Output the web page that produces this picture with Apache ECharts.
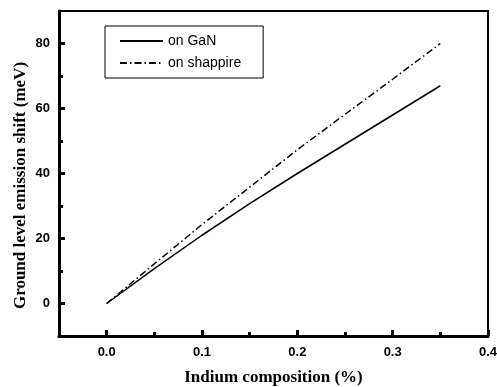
<!DOCTYPE html>
<html><head><meta charset="utf-8">
<script src="https://cdn.jsdelivr.net/npm/echarts@6/dist/echarts.min.js"></script>
<style>html,body{margin:0;padding:0;background:#fff}#c{width:497px;height:387px}</style>
</head><body><div id="c"></div>
<script>
const xValues = [0, 0.05, 0.1, 0.15, 0.2, 0.25, 0.3, 0.35];
const ganValues = [0, 10.7, 21, 30.7, 40, 49, 58, 67];
const sapphireValues = [0, 12.2, 24.3, 35.8, 47.3, 58.2, 69, 80];
const seriesNames = ['on GaN', 'on shappire'];
const xMajorTicks = [0, 0.1, 0.2, 0.3, 0.4];
const xMinorTicks = [0.05, 0.15, 0.25, 0.35];
const yMajorTicks = [0, 20, 40, 60, 80];
const yMinorTicks = [10, 30, 50, 70];
const xTitle = 'Indium composition (%)';
const yTitle = 'Ground level emission shift (meV)';

const chart = echarts.init(document.getElementById('c'));
const lab = {fontFamily: 'Liberation Sans, Arial', fontWeight: 'bold', fontSize: 13, color: '#000'};
const titleFont = {fontFamily: 'Liberation Serif, Times New Roman', fontWeight: 'bold', fontSize: 17, color: '#000'};
chart.setOption({
  animation: false,
  grid: {left: 59, top: 11, right: 9, bottom: 51, show: true, borderColor: '#000', borderWidth: 2,
         containLabel: false, outerBoundsMode: 'none'},
  legend: {
    left: 105, top: 26, orient: 'vertical',
    borderColor: '#000', borderWidth: 1, padding: [8, 22, 8, 14],
    itemWidth: 43, itemHeight: 12, itemGap: 8,
    itemStyle: {opacity: 0},
    textStyle: {fontFamily: 'Liberation Sans, Arial', fontSize: 14, color: '#000'},
    data: seriesNames
  },
  xAxis: [{
    type: 'value', min: -0.05, max: 0.4, position: 'bottom',
    name: xTitle, nameLocation: 'middle', nameGap: 33, nameTextStyle: titleFont,
    axisLine: {show: true, onZero: false, lineStyle: {color: '#000', width: 3}},
    axisTick: {show: true, inside: true, length: 6, lineStyle: {color: '#000', width: 3}, customValues: xMajorTicks},
    axisLabel: Object.assign({margin: 10, customValues: xMajorTicks, formatter: v => v.toFixed(1)}, lab),
    splitLine: {show: false}
  }, {
    type: 'value', min: -0.05, max: 0.4, position: 'bottom',
    axisLine: {show: false, onZero: false},
    axisTick: {show: true, inside: true, length: 4, lineStyle: {color: '#000', width: 3}, customValues: xMinorTicks},
    axisLabel: {show: false}, splitLine: {show: false}
  }],
  yAxis: [{
    type: 'value', min: -10, max: 90, position: 'left',
    name: yTitle, nameLocation: 'middle', nameGap: 30, nameMoveOverlap: false,
    nameTextStyle: Object.assign({padding: [0, 24, 0, 0]}, titleFont),
    axisLine: {show: true, onZero: false, lineStyle: {color: '#000', width: 3}},
    axisTick: {show: true, inside: true, length: 6, lineStyle: {color: '#000', width: 3}, customValues: yMajorTicks},
    axisLabel: Object.assign({margin: 9, customValues: yMajorTicks}, lab),
    splitLine: {show: false}
  }, {
    type: 'value', min: -10, max: 90, position: 'left',
    axisLine: {show: false, onZero: false},
    axisTick: {show: true, inside: true, length: 4, lineStyle: {color: '#000', width: 3}, customValues: yMinorTicks},
    axisLabel: {show: false}, splitLine: {show: false}
  }],
  series: [{
    name: seriesNames[0], type: 'line', symbol: 'none', color: '#000',
    lineStyle: {color: '#000', width: 1.5, type: 'solid'},
    data: xValues.map((x, i) => [x, ganValues[i]])
  }, {
    name: seriesNames[1], type: 'line', symbol: 'none', color: '#000',
    lineStyle: {color: '#000', width: 1.5, type: [7, 3, 1.5, 3]},
    data: xValues.map((x, i) => [x, sapphireValues[i]])
  }]
});
</script></body></html>
